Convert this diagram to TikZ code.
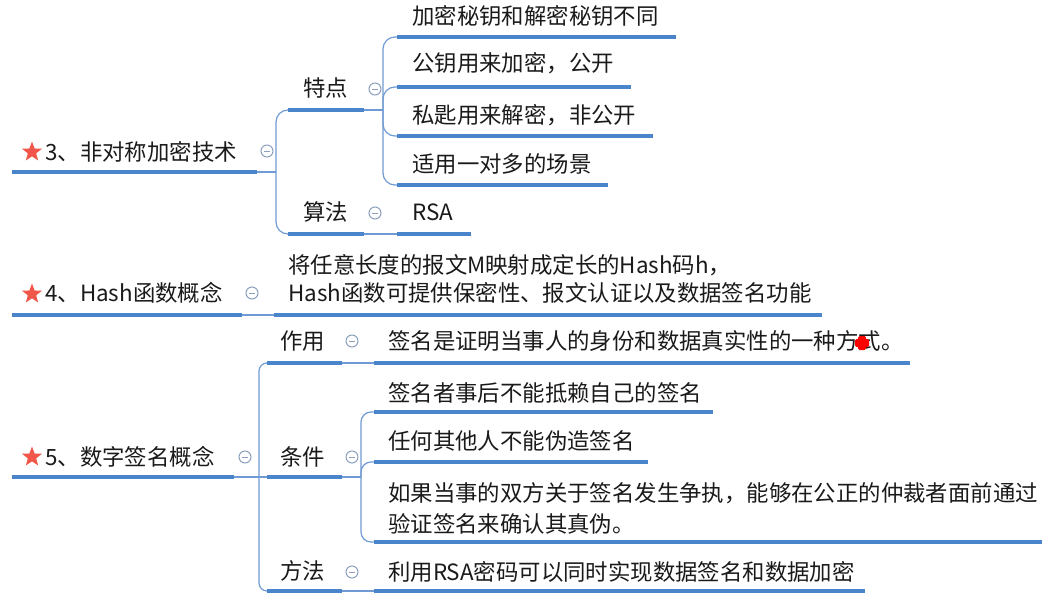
\documentclass[tikz,border=0pt]{standalone}
\usepackage{fontspec}
\setmainfont{Noto Sans CJK SC}
\usetikzlibrary{shapes.geometric}
\definecolor{lineblue}{HTML}{4A85CB}
\definecolor{connblue}{HTML}{6F9AD3}
\definecolor{circgray}{HTML}{8C9FBD}
\definecolor{starred}{HTML}{F0574A}
\definecolor{txt}{HTML}{1A1A1A}
\begin{document}
\begin{tikzpicture}[x=1pt,y=-1pt,
  font=\fontsize{22.4}{26}\selectfont,
  topic/.style={anchor=base west, inner sep=0pt, text=txt},
  bar/.style={lineblue, line width=3.2pt},
  conn/.style={connblue, line width=1.2pt, rounded corners=12pt},
  connb/.style={connblue, line width=1.2pt, rounded corners=8pt},
  fold/.style={circle, draw=circgray, line width=1pt, minimum size=12pt, inner sep=0pt,
    path picture={\draw[circgray, line width=0.9pt]
      ([xshift=-2.8pt]path picture bounding box.center) -- ([xshift=2.8pt]path picture bounding box.center);}},
  star5/.style={star, star points=5, star point ratio=2.4, fill=starred, inner sep=0pt, minimum size=21pt}]
\useasboundingbox (0,0) rectangle (1042,602);

% ---------- Section 3 ----------
\coordinate (r3s) at (12,172); \coordinate (r3e) at (257,172);
\draw[bar] (r3s) -- (r3e);
\node[star5] (s3) at (32,152) {};
\node[topic] (r3) at (45,160) {3、非对称加密技术};
\node[fold] (f3) at (267,151) {};
\coordinate (j3) at (276,172);
\coordinate (a3s) at (288,110); \coordinate (a3e) at (364,110);
\coordinate (b3s) at (288,234); \coordinate (b3e) at (364,234);
\draw[conn] (r3e) -- (j3);
\draw[conn] (j3) |- (a3s);
\draw[conn] (j3) |- (b3s);
\draw[bar] (a3s) -- (a3e);
\draw[bar] (b3s) -- (b3e);
\node[topic] (ta) at (303,96) {特点};
\node[fold] (fa) at (375,89) {};
\node[topic] (tb) at (303,220) {算法};
\node[fold] (fb) at (375,213) {};

\coordinate (ja) at (383,110);
\draw[conn] (a3e) -- (ja);
\coordinate (c1s) at (397,37);  \coordinate (c1e) at (676,37);
\coordinate (c2s) at (397,87);  \coordinate (c2e) at (631,87);
\coordinate (c3s) at (397,136); \coordinate (c3e) at (653,136);
\coordinate (c4s) at (397,185); \coordinate (c4e) at (608,185);
\foreach \c in {c1,c2,c3,c4} {
  \draw[conn] (ja) |- (\c s);
  \draw[bar] (\c s) -- (\c e);
}
\node[topic] (tc1) at (412,25)  {加密秘钥和解密秘钥不同};
\node[topic] (tc2) at (412,71)  {公钥用来加密，公开};
\node[topic] (tc3) at (412,123) {私匙用来解密，非公开};
\node[topic] (tc4) at (412,172) {适用一对多的场景};

\coordinate (rsas) at (397,234); \coordinate (rsae) at (471,234);
\draw[conn] (b3e) -- (rsas);
\draw[bar] (rsas) -- (rsae);
\node[topic] (trsa) at (412,220) {RSA};

% ---------- Section 4 ----------
\coordinate (r4s) at (12,315); \coordinate (r4e) at (242,315);
\draw[bar] (r4s) -- (r4e);
\node[star5] (s4) at (32,294) {};
\node[topic] (r4) at (45,301) {4、Hash函数概念};
\node[fold] (f4) at (252,293) {};
\coordinate (hs) at (274,315); \coordinate (he) at (822,315);
\draw[conn] (r4e) -- (hs);
\draw[bar] (hs) -- (he);
\node[topic] (h1) at (288,273) {将任意长度的报文M映射成定长的Hash码h，};
\node[topic] (h2) at (288,301) {Hash函数可提供保密性、报文认证以及数据签名功能};

% ---------- Section 5 ----------
\coordinate (r5s) at (12,477); \coordinate (r5e) at (234,477);
\draw[bar] (r5s) -- (r5e);
\node[star5] (s5) at (32,457) {};
\node[topic] (r5) at (45,465) {5、数字签名概念};
\node[fold] (f5) at (245,457) {};
\coordinate (j5) at (259,477);
\draw[connb] (r5e) -- (j5);
\coordinate (ws) at (267,363); \coordinate (we) at (342,363);
\coordinate (js) at (267,477); \coordinate (je) at (342,477);
\coordinate (ms) at (267,591); \coordinate (me) at (342,591);
\draw[connb] (j5) |- (ws);
\draw[connb] (j5) -- (js);
\draw[connb] (j5) |- (ms);
\draw[bar] (ws) -- (we);
\draw[bar] (js) -- (je);
\draw[bar] (ms) -- (me);
\node[topic] (tw) at (280,349) {作用};
\node[fold] (fw) at (352,341) {};
\node[topic] (tj) at (280,465) {条件};
\node[fold] (fj) at (352,457) {};
\node[topic] (tm) at (280,579) {方法};
\node[fold] (fm) at (352,572) {};

\coordinate (wcs) at (374,363); \coordinate (wce) at (910,363);
\draw[conn] (we) -- (wcs);
\draw[bar] (wcs) -- (wce);
\node[topic] (twc) at (388,349) {签名是证明当事人的身份和数据真实性的一种方式。};
\fill[red, rounded corners=1.5pt] (855,339) rectangle (869,347);
\fill[red, rounded corners=1.5pt] (858,336) rectangle (866,350);

\coordinate (jk) at (361,477);
\draw[connb] (je) -- (jk);
\coordinate (k1s) at (374,412); \coordinate (k1e) at (713,412);
\coordinate (k2s) at (374,462); \coordinate (k2e) at (648,462);
\coordinate (k3s) at (374,542); \coordinate (k3e) at (1042,542);
\foreach \c in {k1,k2,k3} {
  \draw[conn, rounded corners=10pt] (jk) |- (\c s);
  \draw[bar] (\c s) -- (\c e);
}
\node[topic] (tk1) at (388,401) {签名者事后不能抵赖自己的签名};
\node[topic] (tk2) at (388,449) {任何其他人不能伪造签名};
\node[topic] (tk3a) at (388,501) {如果当事的双方关于签名发生争执，能够在公正的仲裁者面前通过};
\node[topic] (tk3b) at (388,532) {验证签名来确认其真伪。};

\coordinate (mcs) at (374,591); \coordinate (mce) at (865,591);
\draw[conn] (me) -- (mcs);
\draw[bar] (mcs) -- (mce);
\node[topic] (tmc) at (388,580) {利用RSA密码可以同时实现数据签名和数据加密};
\end{tikzpicture}
\end{document}
